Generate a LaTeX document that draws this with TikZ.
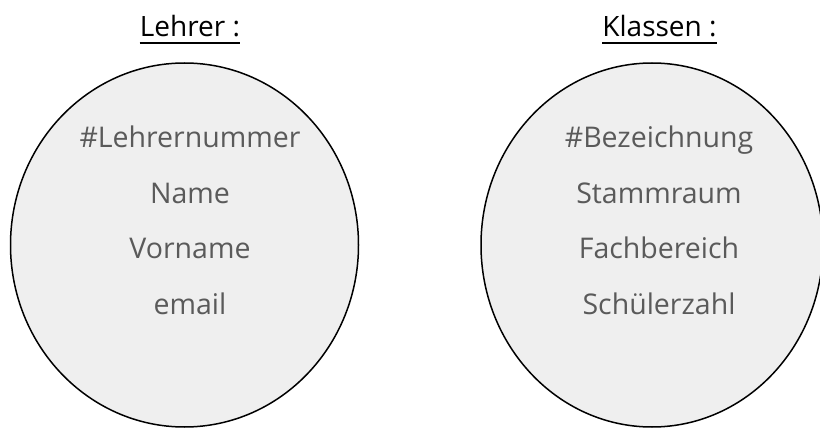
\documentclass[tikz,border=0pt]{standalone}
\usepackage{fontspec}
\setmainfont{Open Sans}
\usetikzlibrary{shapes.geometric}
\definecolor{entfill}{HTML}{EFEFEF}
\definecolor{attrgray}{HTML}{5A5A5A}
\begin{document}
\begin{tikzpicture}[x=1pt,y=-1pt,
  entity/.style={ellipse,draw=black,line width=1.5pt,fill=entfill,inner sep=0pt},
  attr/.style={font=\fontsize{28.5}{32}\selectfont,text=attrgray,anchor=base,inner sep=0pt},
  etitle/.style={font=\fontsize{28}{32}\selectfont,text=black,anchor=base,inner sep=0pt},
  uline/.style={line width=1.5pt}]
\useasboundingbox (0,0) rectangle (820,428);
\clip (0,0) rectangle (820,428);
\node[entity,minimum width=348pt,minimum height=364pt] (lehrer) at (184.5,245) {};
\node[entity,minimum width=342pt,minimum height=364pt] (klassen) at (652,245) {};
\node[etitle] (tl) at (190,37) {Lehrer :};
\node[etitle] (tk) at (659.5,37) {Klassen :};
\draw[uline] ([yshift=-6pt]tl.base west) -- ([yshift=-6pt]tl.base east);
\draw[uline] ([yshift=-6pt]tk.base west) -- ([yshift=-6pt]tk.base east);
\node[attr] (l1) at (190,147) {\#Lehrernummer};
\node[attr] (l2) at (190,203) {Name};
\node[attr] (l3) at (190,258) {Vorname};
\node[attr] (l4) at (190,314) {email};
\node[attr] (k1) at (659,147) {\#Bezeichnung};
\node[attr] (k2) at (659,203) {Stammraum};
\node[attr] (k3) at (659,258) {Fachbereich};
\node[attr] (k4) at (659,314) {Schülerzahl};
\end{tikzpicture}
\end{document}
